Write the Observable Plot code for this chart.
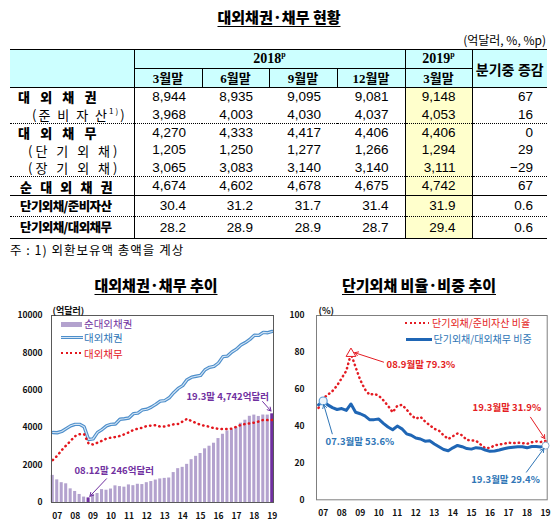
<!DOCTYPE html>
<html><head><meta charset="utf-8">
<script src="https://cdn.jsdelivr.net/npm/d3@7"></script>
<script src="https://cdn.jsdelivr.net/npm/@observablehq/plot@0.6"></script>
<style>
html,body{margin:0;padding:0;background:#fff;}
body{width:558px;height:524px;overflow:hidden;position:relative;font-family:"Noto Sans CJK KR",sans-serif;color:#000;}
.abs{position:absolute;}
#title{left:0;top:9px;width:558px;text-align:center;font-size:15px;font-weight:900;line-height:1;text-decoration:underline;text-underline-offset:3px;}
#unit{right:12px;top:34px;font-size:12px;line-height:1;}
#note{left:10px;top:244px;font-size:12.5px;line-height:1;letter-spacing:1px;}
.ctitle{top:277px;width:220px;text-align:center;font-size:15px;font-weight:900;line-height:1;text-decoration:underline;text-underline-offset:3px;}
#tbl{position:absolute;left:10px;top:49px;width:537px;border-collapse:collapse;table-layout:fixed;}
#tbl td{padding:0;line-height:1;vertical-align:middle;white-space:nowrap;overflow:visible;}
#tbl sup{font-size:8px;line-height:0;vertical-align:6px;}
#tbl tr.h td{background:#ccffff;font-family:"Liberation Serif","Noto Sans CJK KR",serif;font-weight:bold;text-align:center;height:18px;}
#tbl tr.h1 td{border-top:1.5px solid #000;font-size:14px;}
#tbl tr.h2 td{font-size:13px;border-right:1px solid #000;border-bottom:1px solid #000;}
#tbl td.hl{border-right:1px solid #000;border-bottom:1px solid #000;}
#tbl td.hy{border-right:1px solid #000;border-bottom:1px solid #000;}
#tbl td.hc{border-bottom:1px solid #000;font-family:"Noto Sans CJK KR",sans-serif;font-size:13.5px;padding-top:5px;}
#tbl td.lab{font-size:13px;border-right:1px solid #000;}
#tbl td.num{font-family:"Liberation Sans",sans-serif;font-size:13.5px;text-align:right;padding-right:16px;}
#tbl td.c3{border-right:1px solid #000;}
#tbl td.c4{border-right:1px solid #000;background:#ffffcc;}
#tbl td.chg{padding-right:14px;}
#tbl tr.dot td{border-bottom:1px dotted #000;}
#tbl tr.sol td{border-bottom:1px solid #000;}
#tbl tr.last td{border-bottom:1.5px solid #000;}
.leg{position:absolute;height:16px;line-height:16px;font-size:10.5px;white-space:nowrap;}
.sw{position:absolute;}
.chart svg text{font-weight:bold;}
</style></head><body>
<div id="title" class="abs">대외채권·채무 현황</div>
<div id="unit" class="abs">(억달러, %, %p)</div>
<table id="tbl"></table>
<div id="note" class="abs">주 : 1) 외환보유액 총액을 계상</div>
<div class="abs ctitle" style="left:46px">대외채권·채무 추이</div>
<div class="abs ctitle" style="left:309px">단기외채 비율·비중 추이</div>
<div id="c1" class="abs chart" style="left:0;top:295px"></div>
<div id="c2" class="abs chart" style="left:279px;top:295px"></div>

<!-- legends -->
<div class="sw" style="left:61px;top:321.5px;width:21px;height:5px;background:#b3a2ce"></div>
<div class="leg" style="left:84px;top:316px;color:#7030a0">순대외채권</div>
<div class="sw" style="left:61px;top:336.3px;width:22px;height:3px;background:#4e8fcb"></div>
<div class="sw" style="left:61px;top:337.3px;width:22px;height:1px;background:#d6e6f5"></div>
<div class="leg" style="left:84px;top:330px;color:#2e75b6">대외채권</div>
<div class="sw" style="left:61px;top:352px;width:22px;height:2.4px;background:repeating-linear-gradient(to right,#e3161d 0 2px,transparent 2px 4.6px)"></div>
<div class="leg" style="left:84px;top:345.5px;color:#e3161d">대외채무</div>

<div class="sw" style="left:405px;top:322px;width:24px;height:2.4px;background:repeating-linear-gradient(to right,#e41c23 0 2px,transparent 2px 4.6px)"></div>
<div class="leg" style="left:432px;top:315px;font-size:10px;color:#e41c23">단기외채/준비자산 비율</div>
<div class="sw" style="left:406px;top:337.5px;width:26px;height:3px;background:#1f66b5"></div>
<div class="leg" style="left:433.5px;top:331px;font-size:10px;color:#2e75b6">단기외채/대외채무 비중</div>

<script>
// ---------- table data ----------
const tblYears = ["2018", "2019"];
const tblPeriods = ["3월말", "6월말", "9월말", "12월말", "3월말"];
const tblChangeHead = "분기중 증감";
const tblLabels = ["대 외 채 권", "(준 비 자 산<sup>1)</sup>)", "대 외 채 무", "(단 기 외 채)", "(장 기 외 채)", "순 대 외 채 권", "단기외채/준비자산", "단기외채/대외채무"];
const tblValues = [
  ["8,944", "8,935", "9,095", "9,081", "9,148"],
  ["3,968", "4,003", "4,030", "4,037", "4,053"],
  ["4,270", "4,333", "4,417", "4,406", "4,406"],
  ["1,205", "1,250", "1,277", "1,266", "1,294"],
  ["3,065", "3,083", "3,140", "3,140", "3,111"],
  ["4,674", "4,602", "4,678", "4,675", "4,742"],
  ["30.4", "31.2", "31.7", "31.4", "31.9"],
  ["28.2", "28.9", "28.9", "28.7", "29.4"]
];
const tblChange = ["67", "16", "0", "29", "\u221229", "67", "0.6", "0.6"];

// ---------- chart data (quarter-ends, 06.12 – 19.3) ----------
const quarters = ["06.12",
 "07.3","07.6","07.9","07.12","08.3","08.6","08.9","08.12","09.3","09.6","09.9","09.12",
 "10.3","10.6","10.9","10.12","11.3","11.6","11.9","11.12","12.3","12.6","12.9","12.12",
 "13.3","13.6","13.9","13.12","14.3","14.6","14.9","14.12","15.3","15.6","15.9","15.12",
 "16.3","16.6","16.9","16.12","17.3","17.6","17.9","17.12","18.3","18.6","18.9","18.12","19.3"];
const netClaims = [1450,1210,1060,1000,730,590,430,290,246,430,480,690,656,720,890,850,820,940,900,975,960,1060,1120,1200,1260,1290,1310,1600,1810,1880,2040,2290,2470,2620,2870,3010,3170,3420,3650,3830,3900,4010,4240,4400,4610,4674,4602,4678,4675,4742];
const extAssets = [3740,3730,3800,3950,4100,4180,4180,4050,3370,3400,3750,3900,4100,4180,4200,4450,4480,4520,4750,4780,4950,4990,5100,5250,5420,5450,5600,5870,6100,6250,6570,6700,6750,6800,7100,7230,7280,7460,7800,7830,8050,8200,8420,8550,8720,8944,8935,9095,9081,9148];
const extDebt = [2270,2500,2800,3050,3300,3550,3650,3650,3150,3100,3200,3300,3420,3470,3500,3560,3650,3750,3880,3950,4000,4090,4110,4130,4060,4070,4120,4180,4200,4330,4480,4350,4250,4150,4100,4050,3970,3940,3920,3930,3950,4050,4150,4200,4230,4270,4333,4417,4406,4406];
const stToReserves = [49.9,55,57,59,62,66,70,79.3,72,65,60,57,57.5,56.5,54,51,47.5,51,51.5,49,46,44,45,42.5,40.5,38.5,37.5,35,33,34.5,36,35,32.5,32.2,32,30,28,28.2,29.5,30,30.4,31,30.7,31,30.7,30.4,31.2,31.7,31.4,31.9];
const stToDebt = [51.5,53.6,51.5,50,49,49.5,48.5,52,47.5,46.7,45.5,43.5,43.5,43.8,41.5,39.5,38,40,38.5,35.8,35,33.5,33,31.8,32,30.3,28.8,27.3,26.6,28.2,29.5,28.8,27.8,27.5,28.3,28,27,26.3,26.5,27,27.7,28.2,28.5,28.8,28.8,28.2,28.9,28.9,28.7,29.4];
const years = [2007,2008,2009,2010,2011,2012,2013,2014,2015,2016,2017,2018,2019];
const yTicksLeft = [0,2000,4000,6000,8000,10000];
const yTicksRight = [0,20,40,60,80,100];
const highlightQ = ["08.12","19.3"];

const leftNotes = [
  {label: "08.12말 246억달러", tx: 2007.96, ty: 1700, x1: 2009.75, y1: 1270, x2: 2008.82, y2: 330},
  {label: "19.3말 4,742억달러", tx: 2014.21, ty: 5668, x1: 2018.46, y1: 5400, x2: 2018.93, y2: 4893}
];
const rightNotes = [
  {label: "08.9월말 79.3%", tx: 2010.42, ty: 73.4, x1: 2010.26, y1: 74.7, x2: 2008.7, y2: 79.8, color: "#e41c23"},
  {label: "07.3월말 53.6%", tx: 2007.13, ty: 31.3, x1: 2007.49, y1: 35.8, x2: 2007.03, y2: 51.6, color: "#2e75b6"},
  {label: "19.3월말 31.9%", tx: 2015.06, ty: 49.9, x1: 2018.19, y1: 44.8, x2: 2018.96, y2: 33.2, color: "#e41c23"},
  {label: "19.3월말 29.4%", tx: 2014.99, ty: 10.9, x1: 2017.97, y1: 15.0, x2: 2018.91, y2: 27.8, color: "#2e75b6"}
];

// ---------- table ----------
(function buildTable() {
  const cols = [124, 68, 67, 68, 68, 67, 75];
  let h = "<colgroup>" + cols.map(w => `<col style="width:${w}px">`).join("") + "</colgroup>";
  h += `<tr class="h h1"><td rowspan="2" class="hl"></td><td colspan="4" class="hy">${tblYears[0]}<sup>p</sup></td><td class="hy">${tblYears[1]}<sup>p</sup></td><td rowspan="2" class="hc">${tblChangeHead}</td></tr>`;
  h += `<tr class="h h2">` + tblPeriods.map(p => `<td>${p}</td>`).join("") + `</tr>`;
  const rowH = [18, 18, 18, 17, 18, 19, 21, 22];
  const rowCls = ["", "dot", "", "", "dot", "sol", "dot", "last"];
  const labStyle = [
    "padding-left:8px;letter-spacing:3.6px;font-weight:900",
    "padding-left:22px;letter-spacing:2px",
    "padding-left:8px;letter-spacing:3.6px;font-weight:900",
    "padding-left:18px;letter-spacing:3px",
    "padding-left:18px;letter-spacing:3px",
    "padding-left:10px;letter-spacing:2.6px;font-weight:900",
    "padding-left:10px;letter-spacing:-0.6px;font-weight:900;font-size:12.5px",
    "padding-left:10px;letter-spacing:-0.6px;font-weight:900;font-size:12.5px"
  ];
  tblLabels.forEach((lab, i) => {
    h += `<tr class="${rowCls[i]}" style="height:${rowH[i]}px"><td class="lab" style="${labStyle[i]}">${lab}</td>`;
    tblValues[i].forEach((v, j) => {
      const c = j === 3 ? "num c3" : j === 4 ? "num c4" : "num";
      h += `<td class="${c}">${v}</td>`;
    });
    h += `<td class="num chg">${tblChange[i]}</td></tr>`;
  });
  document.getElementById("tbl").innerHTML = h;
})();

// ---------- charts ----------
const parseT = q => { const [yy, mm] = q.split("."); return 2000 + (+yy) + ((+mm) - 3) / 12; };
const rows = quarters.map((q, i) => ({
  q, t: parseT(q), net: netClaims[i], assets: extAssets[i], debt: extDebt[i],
  r1: stToReserves[i], r2: stToDebt[i]
}));
const font = "'Noto Sans CJK KR', sans-serif";

const left = Plot.plot({
  width: 279, height: 229,
  marginLeft: 51, marginRight: 6, marginTop: 20, marginBottom: 22,
  x: {domain: [2006.68, 2019.07]},
  y: {domain: [0, 10000]},
  style: {fontFamily: font, fontSize: "9px", color: "#111", background: "transparent", overflow: "visible"},
  marks: [
    Plot.rect(rows, {x1: d => d.t - 0.085, x2: d => d.t + 0.085, y1: d => 0, y2: "net",
      fill: d => highlightQ.includes(d.q) ? "#7030a0" : "#b3a2ce"}),
    Plot.line(rows, {x: "t", y: "assets", stroke: "#4e8fcb", strokeWidth: 3.4}),
    Plot.line(rows, {x: "t", y: "assets", stroke: "#d6e6f5", strokeWidth: 1.1}),
    Plot.line(rows, {x: "t", y: "debt", stroke: "#e3161d", strokeWidth: 2.5, strokeDasharray: "0.4 4.3", strokeLinecap: "round"}),
    Plot.frame({stroke: "#595959", strokeWidth: 1}),
    Plot.axisY({ticks: yTicksLeft, tickSize: 0, tickPadding: 9, tickFormat: d => String(d), label: null, fontSize: 8.5}),
    Plot.axisX({ticks: years, tickSize: 0, tickPadding: 10, tickFormat: d => String(d % 100).padStart(2, "0"), label: null, fontSize: 8.5}),
    Plot.text(["(억달러)"], {text: d => d, frameAnchor: "top-left", dx: 1, dy: -8, textAnchor: "start", fontSize: 9}),
    Plot.arrow(leftNotes, {x1: "x1", y1: "y1", x2: "x2", y2: "y2", stroke: "#7030a0", strokeWidth: 1, headLength: 6}),
    Plot.text(leftNotes, {x: "tx", y: "ty", text: "label", textAnchor: "start", fill: "#7030a0", fontSize: 9.5})
  ]
});
document.getElementById("c1").appendChild(left);

const right = Plot.plot({
  width: 279, height: 229,
  marginLeft: 37, marginRight: 11.3, marginTop: 20, marginBottom: 24.7,
  x: {domain: [2006.64, 2019.09]},
  y: {domain: [0, 100]},
  style: {fontFamily: font, fontSize: "9px", color: "#111", background: "transparent", overflow: "visible"},
  marks: [
    Plot.line(rows, {x: "t", y: "r1", stroke: "#e41c23", strokeWidth: 2.5, strokeDasharray: "0.4 4.1", strokeLinecap: "round"}),
    Plot.line(rows, {x: "t", y: "r2", stroke: "#1f66b5", strokeWidth: 3}),
    Plot.frame({stroke: "#7f7f7f", strokeWidth: 1}),
    Plot.axisY({ticks: yTicksRight, tickSize: 0, tickPadding: 12, tickFormat: d => String(d), label: null, fontSize: 8.5}),
    Plot.axisX({ticks: years, tickSize: 0, tickPadding: 10, tickFormat: d => String(d % 100).padStart(2, "0"), label: null, fontSize: 8.5}),
    Plot.text(["(%)"], {text: d => d, frameAnchor: "top-left", dx: 2, dy: -8, textAnchor: "start", fontSize: 9}),
    Plot.dot(rows.filter(d => d.q === "08.9"), {x: "t", y: "r1", symbol: "triangle", r: 3.6, stroke: "#e41c23", fill: "#fff", strokeWidth: 1}),
    Plot.dot(rows.filter(d => d.q === "07.3"), {x: "t", y: "r2", r: 4, stroke: "#5b9bd5", fill: "#eef5fb", strokeWidth: 1.2}),
    Plot.dot(rows.filter(d => d.q === "19.3"), {x: "t", y: "r2", r: 3.5, stroke: "#8fa9c8", fill: "#fff", strokeWidth: 1}),
    Plot.arrow(rightNotes, {x1: "x1", y1: "y1", x2: "x2", y2: "y2", stroke: "color", strokeWidth: 1, headLength: 6}),
    Plot.text(rightNotes, {x: "tx", y: "ty", text: "label", textAnchor: "start", fill: "color", fontSize: 9.5})
  ]
});
document.getElementById("c2").appendChild(right);
</script>
</body></html>
